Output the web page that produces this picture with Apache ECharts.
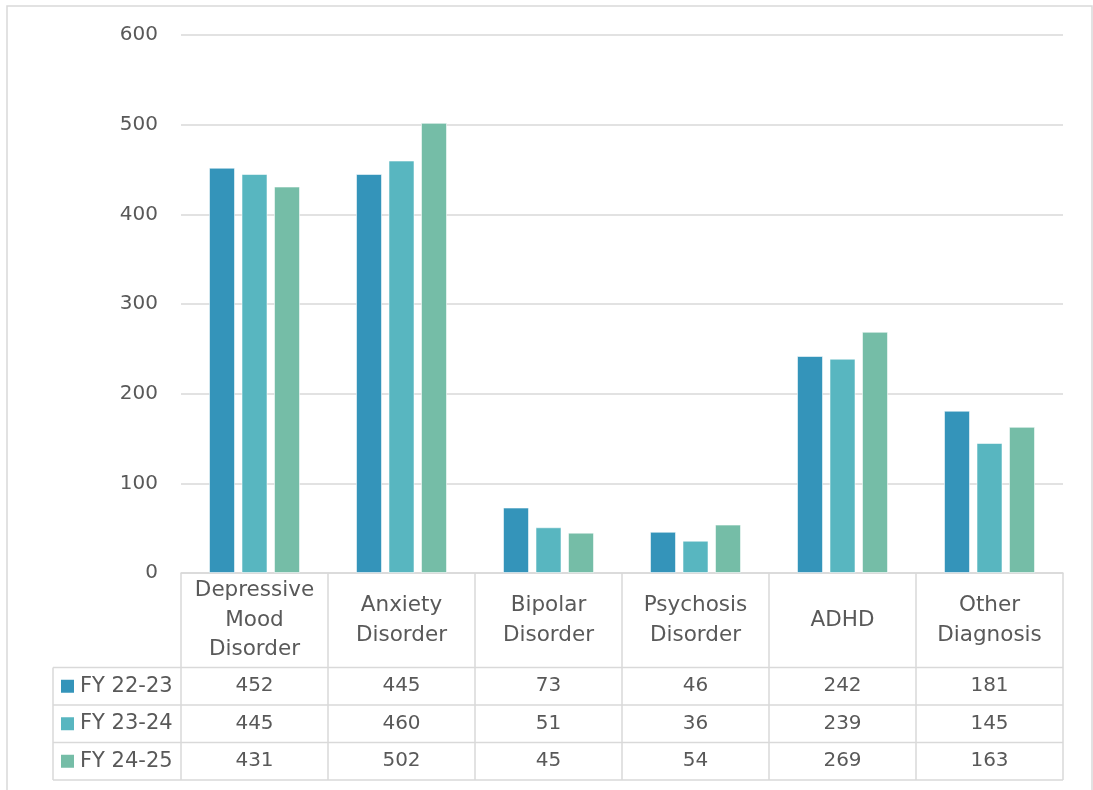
<!DOCTYPE html>
<html>
<head>
<meta charset="utf-8">
<title>Diagnoses by Fiscal Year</title>
<script src="https://cdn.jsdelivr.net/npm/echarts@6/dist/echarts.min.js"></script>
<style>
  html, body { margin: 0; padding: 0; background: #ffffff; }
  #chart { width: 1093px; height: 790px; }
</style>
</head>
<body>
<div id="chart"></div>
<script>
// Diagnosis categories (header row of the data table)
const categories = [
  'Depressive\nMood\nDisorder',
  'Anxiety\nDisorder',
  'Bipolar\nDisorder',
  'Psychosis\nDisorder',
  'ADHD',
  'Other\nDiagnosis'
];

// Fiscal-year series
const seriesNames = ['FY 22-23', 'FY 23-24', 'FY 24-25'];
const fy2223 = [452, 445, 73, 46, 242, 181];
const fy2324 = [445, 460, 51, 36, 239, 145];
const fy2425 = [431, 502, 45, 54, 269, 163];
const seriesValues = [fy2223, fy2324, fy2425];

// Value axis ticks
const yMin = 0, yMax = 600, yStep = 100;

const colors = ['#3494BA', '#58B6C0', '#75BDA7'];
const textColor = '#595959';
const lineColor = '#D9D9D9';
const fontFamily = 'DejaVu Sans, sans-serif';
const fontSize = 20;
const headerFontSize = 21.5;
const nameFontSize = 21;

// Table layout (pixels)
const headerHeight = 94.5;
const rowHeight = 37.5;
const tableLeft = 53;

const chart = echarts.init(document.getElementById('chart'), null, { renderer: 'canvas' });

const option = {
  animation: false,
  backgroundColor: '#ffffff',
  textStyle: { fontFamily: fontFamily },
  grid: { left: 181, right: 30, top: 35, bottom: 217, containLabel: false },
  xAxis: {
    type: 'category',
    data: categories,
    boundaryGap: true,
    axisLine: { show: true, lineStyle: { color: lineColor, width: 1.5 } },
    axisTick: {
      show: true,
      inside: false,
      length: headerHeight + rowHeight * 3,
      lineStyle: { color: lineColor, width: 1.5 }
    },
    axisLabel: {
      interval: 0,
      color: textColor,
      fontSize: headerFontSize,
      fontFamily: fontFamily,
      lineHeight: 29.5,
      align: 'center',
      verticalAlign: 'middle',
      margin: headerHeight / 2
    },
    splitLine: { show: false }
  },
  yAxis: {
    type: 'value',
    min: yMin,
    max: yMax,
    interval: yStep,
    axisLine: { show: false },
    axisTick: { show: false },
    axisLabel: {
      color: textColor,
      fontSize: fontSize,
      fontFamily: fontFamily,
      margin: 23
    },
    splitLine: { show: true, lineStyle: { color: lineColor, width: 1.5 } }
  },
  series: seriesNames.map((name, i) => ({
    name: name,
    type: 'bar',
    data: seriesValues[i],
    barWidth: 26,
    barGap: '25%',
    itemStyle: {
      color: colors[i],
      borderColor: 'rgba(255,255,255,0.55)',
      borderWidth: 1
    }
  }))
};

chart.setOption(option);

// Data table below the category axis, positioned from the axis scale
function drawTable() {
  const centers = categories.map((_, i) => chart.convertToPixel({ xAxisIndex: 0 }, i));
  const band = centers.length > 1 ? centers[1] - centers[0] : 100;
  const tableRight = centers[centers.length - 1] + band / 2;
  const axisY = chart.convertToPixel({ yAxisIndex: 0 }, yMin);
  const firstRowTop = axisY + headerHeight;
  const tableBottom = firstRowTop + rowHeight * seriesNames.length;

  const elements = [];

  // outer chart frame
  elements.push({
    type: 'rect',
    shape: { x: 7, y: 6, width: 1085, height: 820 },
    style: { fill: null, stroke: lineColor, lineWidth: 1.5 },
    silent: true
  });

  // horizontal row lines
  for (let r = 0; r <= seriesNames.length; r++) {
    const y = firstRowTop + r * rowHeight;
    elements.push({
      type: 'line',
      shape: { x1: tableLeft, y1: y, x2: tableRight, y2: y },
      style: { stroke: lineColor, lineWidth: 1.5 },
      silent: true
    });
  }
  // left edge of the series-name column
  elements.push({
    type: 'line',
    shape: { x1: tableLeft, y1: firstRowTop, x2: tableLeft, y2: tableBottom },
    style: { stroke: lineColor, lineWidth: 1.5 },
    silent: true
  });

  seriesNames.forEach((name, r) => {
    const cy = firstRowTop + r * rowHeight + rowHeight / 2;
    // legend key
    elements.push({
      type: 'rect',
      shape: { x: 61, y: cy - 6.5, width: 13, height: 13 },
      style: { fill: colors[r] },
      silent: true
    });
    elements.push({
      type: 'text',
      x: 80, y: cy,
      style: {
        text: name, fill: textColor, fontSize: nameFontSize, fontFamily: fontFamily,
        align: 'left', verticalAlign: 'middle'
      },
      silent: true
    });
    // values
    seriesValues[r].forEach((v, c) => {
      elements.push({
        type: 'text',
        x: centers[c], y: cy,
        style: {
          text: String(v), fill: textColor, fontSize: fontSize, fontFamily: fontFamily,
          align: 'center', verticalAlign: 'middle'
        },
        silent: true
      });
    });
  });

  chart.setOption({ graphic: { elements: elements } });
}

drawTable();
</script>
</body>
</html>
